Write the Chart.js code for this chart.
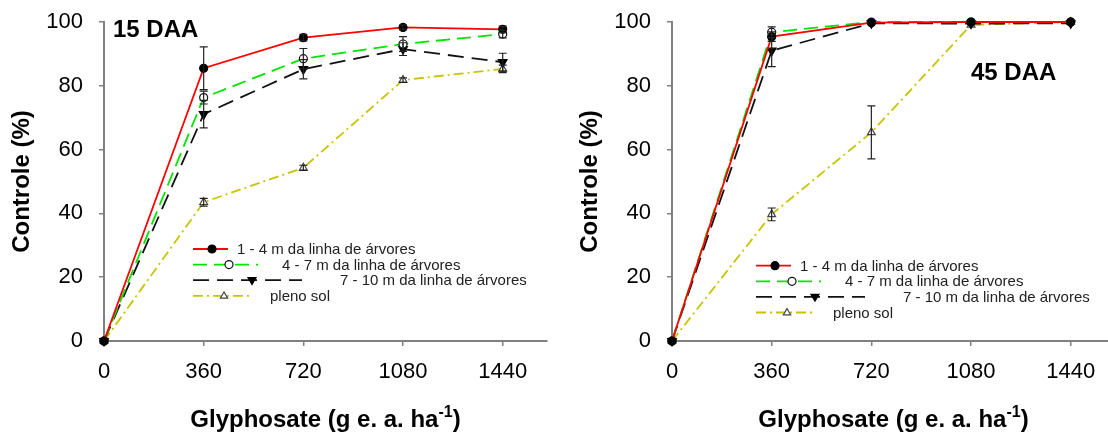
<!DOCTYPE html>
<html>
<head>
<meta charset="utf-8">
<script src="https://cdn.jsdelivr.net/npm/chart.js@4.4.1/dist/chart.umd.min.js"></script>
<style>
  html, body { margin: 0; padding: 0; background: #fff; overflow: hidden; }
  #wrap { position: relative; width: 1108px; height: 434px; overflow: hidden; }
  canvas { position: absolute; top: 0; }
  #chart15 { left: 0; }
  #chart45 { left: 568px; }
</style>
</head>
<body>
<div id="wrap">
  <canvas id="chart15" width="554" height="434"></canvas>
  <canvas id="chart45" width="554" height="434"></canvas>
</div>
<script>
// doses of glyphosate (g e. a. ha-1)
const DOSES = [0, 360, 720, 1080, 1440];
const X_TICKS = [0, 360, 720, 1080, 1440];
const Y_TICKS = [0, 20, 40, 60, 80, 100];
const SERIES_NAMES = [
  '1 - 4 m da linha de árvores',
  '4 - 7 m da linha de árvores',
  '7 - 10 m da linha de árvores',
  'pleno sol',
];

// 15 DAA
const DAA15_1_4 = [0, 85.5, 95.1, 98.3, 97.7];
const DAA15_1_4_ERR = [0, 6.7, 1.0, 0.7, 1.0];
const DAA15_4_7 = [0, 76.3, 88.5, 93.1, 96.2];
const DAA15_4_7_ERR = [0, 2.0, 3.2, 2.3, 1.2];
const DAA15_7_10 = [0, 71.1, 85.2, 91.5, 87.4];
const DAA15_7_10_ERR = [0, 4.3, 3.0, 2.0, 2.8];
const DAA15_SOL = [0, 43.5, 54.3, 81.8, 85.3];
const DAA15_SOL_ERR = [0, 1.2, 0.8, 0.7, 1.2];

// 45 DAA
const DAA45_1_4 = [0, 95.4, 99.8, 100, 100];
const DAA45_1_4_ERR = [0, 1.5, 0, 0, 0];
const DAA45_4_7 = [0, 96.8, 100, 100, 100];
const DAA45_4_7_ERR = [0, 1.7, 0, 0, 0];
const DAA45_7_10 = [0, 91.0, 99.6, 99.5, 99.6];
const DAA45_7_10_ERR = [0, 5.0, 0, 0, 0];
const DAA45_SOL = [0, 39.7, 65.4, 99.1, 100];
const DAA45_SOL_ERR = [0, 2.0, 8.3, 0, 0];

const FONT = '"Liberation Sans", Arial, sans-serif';
const AXIS_GREY = '#808080';

const STYLES = [
  { color: '#ff0000', dash: [], marker: 'circle', fill: '#000', stroke: '#000', radius: 4, rotation: 0 },
  { color: '#00e600', dash: [14, 7], marker: 'circle', fill: '#fff', stroke: '#111', radius: 4, rotation: 0 },
  { color: '#111111', dash: [16, 8], marker: 'triangle', fill: '#000', stroke: '#000', radius: 5, rotation: 180 },
  { color: '#c8c400', dash: [10, 4, 2, 4], marker: 'triangle', fill: '#fff', stroke: '#444', radius: 4.5, rotation: 0 },
];
// legend sample geometry, relative to line start
const LEGEND_LAYOUT = [
  { end: 35, mark: 19, text: 44 },
  { end: 65, mark: 36, text: 89 },
  { end: 109, mark: 59, text: 147 },
  { end: 59, mark: 31, text: 77 },
];

function drawMarker(ctx, st, x, y) {
  ctx.save();
  ctx.fillStyle = st.fill;
  ctx.strokeStyle = st.stroke;
  ctx.lineWidth = 1.2;
  ctx.setLineDash([]);
  ctx.beginPath();
  if (st.marker === 'circle') {
    ctx.arc(x, y, st.radius, 0, Math.PI * 2);
  } else {
    const r = st.radius * 0.85;
    const s = st.rotation === 180 ? -1 : 1;
    ctx.moveTo(x, y - s * r);
    ctx.lineTo(x - r * 0.95, y + s * r * 0.6);
    ctx.lineTo(x + r * 0.95, y + s * r * 0.6);
    ctx.closePath();
  }
  ctx.fill();
  ctx.stroke();
  ctx.restore();
}

const errorBars = {
  id: 'errorBars',
  afterDatasetsDraw(chart) {
    const { ctx, scales: { x, y } } = chart;
    ctx.save();
    ctx.strokeStyle = '#222';
    ctx.lineWidth = 1.2;
    chart.data.datasets.forEach((ds) => {
      ds.errors.forEach((e, i) => {
        if (!e) return;
        const px = x.getPixelForValue(ds.data[i].x);
        const top = y.getPixelForValue(ds.data[i].y + e);
        const bot = y.getPixelForValue(ds.data[i].y - e);
        ctx.beginPath();
        ctx.moveTo(px, top); ctx.lineTo(px, bot);
        ctx.moveTo(px - 4, top); ctx.lineTo(px + 4, top);
        ctx.moveTo(px - 4, bot); ctx.lineTo(px + 4, bot);
        ctx.stroke();
      });
    });
    ctx.restore();
  },
};

const panelDecor = {
  id: 'panelDecor',
  afterDraw(chart, args, opts) {
    const { ctx, chartArea } = chart;
    ctx.save();
    // panel label
    ctx.fillStyle = '#000';
    ctx.font = 'bold 24px ' + FONT;
    ctx.textBaseline = 'alphabetic';
    ctx.fillText(opts.title, chartArea.left + opts.titleX, opts.titleBaseline);

    // x axis title with superscript
    const main = 'Glyphosate (g e. a. ha';
    const sup = '-1';
    const close = ')';
    ctx.font = 'bold 24px ' + FONT;
    const w1 = ctx.measureText(main).width;
    const w3 = ctx.measureText(close).width;
    ctx.font = 'bold 16px ' + FONT;
    const w2 = ctx.measureText(sup).width;
    let tx = (chartArea.left + chartArea.right) / 2 - (w1 + w2 + w3) / 2;
    const base = 427;
    ctx.font = 'bold 24px ' + FONT;
    ctx.fillText(main, tx, base);
    ctx.font = 'bold 16px ' + FONT;
    ctx.fillText(sup, tx + w1, base - 10);
    ctx.font = 'bold 24px ' + FONT;
    ctx.fillText(close, tx + w1 + w2, base);

    // legend
    const lx = chartArea.left + opts.legendX;
    ctx.font = '15px ' + FONT;
    ctx.textBaseline = 'middle';
    SERIES_NAMES.forEach((name, i) => {
      const st = STYLES[i];
      const lay = LEGEND_LAYOUT[i];
      const ly = opts.legendTop + i * 15.6;
      ctx.save();
      ctx.strokeStyle = st.color;
      ctx.lineWidth = 1.8;
      ctx.setLineDash(st.dash);
      ctx.beginPath();
      ctx.moveTo(lx, ly);
      ctx.lineTo(lx + lay.end, ly);
      ctx.stroke();
      ctx.restore();
      drawMarker(ctx, st, lx + lay.mark, ly);
      ctx.fillStyle = '#222';
      ctx.fillText(name, lx + lay.text, ly + 1);
    });
    ctx.restore();
  },
};

function buildDatasets(values, errors) {
  return values.map((vals, i) => {
    const st = STYLES[i];
    return {
      label: SERIES_NAMES[i],
      data: DOSES.map((d, j) => ({ x: d, y: vals[j] })),
      errors: errors[i],
      borderColor: st.color,
      borderWidth: 1.8,
      borderDash: st.dash,
      backgroundColor: st.fill,
      pointStyle: st.marker,
      pointRadius: st.radius,
      pointRotation: st.rotation,
      pointBackgroundColor: st.fill,
      pointBorderColor: st.stroke,
      pointBorderWidth: 1.2,
      tension: 0,
      clip: false,
    };
  });
}

function buildChart(canvasId, values, errors, decor) {
  return new Chart(document.getElementById(canvasId), {
    type: 'line',
    data: { datasets: buildDatasets(values, errors) },
    plugins: [errorBars, panelDecor],
    options: {
      responsive: false,
      animation: false,
      events: [],
      layout: { padding: { top: 22, right: 7, left: 0, bottom: 0 } },
      plugins: {
        legend: { display: false },
        tooltip: { enabled: false },
        panelDecor: decor,
      },
      scales: {
        x: {
          type: 'linear',
          min: 0,
          max: 1600,
          afterBuildTicks: (scale) => { scale.ticks = X_TICKS.map((v) => ({ value: v })); },
          afterFit: (scale) => { scale.height = 93; },
          grid: { drawOnChartArea: false, drawTicks: true, tickLength: 5, color: AXIS_GREY, lineWidth: 1.5 },
          border: { display: true, color: AXIS_GREY, width: 2 },
          ticks: {
            color: '#000', font: { family: FONT, size: 22 }, padding: 13, maxRotation: 0, autoSkip: false,
            callback: (v) => String(v),
          },
        },
        y: {
          min: 0,
          max: 100,
          afterBuildTicks: (scale) => { scale.ticks = Y_TICKS.map((v) => ({ value: v })); },
          afterFit: (scale) => {
            scale.width = 104;
            scale.paddingTop = 0;
            scale.paddingBottom = 0;
          },
          grid: { drawOnChartArea: false, drawTicks: true, tickLength: 5, color: AXIS_GREY, lineWidth: 1.5 },
          border: { display: true, color: AXIS_GREY, width: 2 },
          ticks: { color: '#000', font: { family: FONT, size: 22 }, padding: 16, callback: (v) => String(v) },
          title: {
            display: true,
            text: 'Controle (%)',
            color: '#000',
            font: { family: FONT, size: 24, weight: 'bold' },
            padding: { top: 8, bottom: 0 },
          },
        },
      },
    },
  });
}

buildChart('chart15',
  [DAA15_1_4, DAA15_4_7, DAA15_7_10, DAA15_SOL],
  [DAA15_1_4_ERR, DAA15_4_7_ERR, DAA15_7_10_ERR, DAA15_SOL_ERR],
  { title: '15 DAA', titleX: 9, titleBaseline: 37, legendX: 89, legendTop: 249 });

buildChart('chart45',
  [DAA45_1_4, DAA45_4_7, DAA45_7_10, DAA45_SOL],
  [DAA45_1_4_ERR, DAA45_4_7_ERR, DAA45_7_10_ERR, DAA45_SOL_ERR],
  { title: '45 DAA', titleX: 299, titleBaseline: 80, legendX: 84, legendTop: 265.7 });
</script>
</body>
</html>
